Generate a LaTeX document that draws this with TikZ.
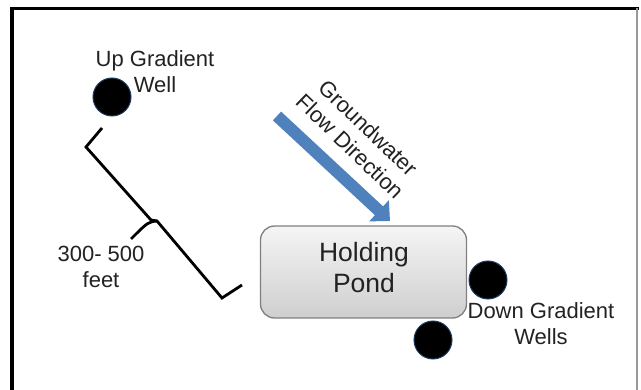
\documentclass[tikz,border=0pt]{standalone}
\usepackage{fontspec}
\setmainfont{Liberation Sans}
\usetikzlibrary{arrows.meta}
\definecolor{flowblue}{HTML}{4F81BD}
\definecolor{wellrim}{HTML}{1F3A60}
\definecolor{txt}{HTML}{222222}
\definecolor{pondedge}{HTML}{7F7F7F}
\begin{document}
\begin{tikzpicture}[x=1pt,y=-1pt,
  lbl/.style={font=\fontsize{22}{26}\selectfont, text=txt, align=center, inner sep=0pt},
  pondlbl/.style={font=\fontsize{26.5}{31}\selectfont, text=txt, align=center, inner sep=0pt},
  well/.style={circle, fill=black, draw=wellrim, line width=1pt, minimum size=38pt, inner sep=0pt},
  pondbox/.style={rectangle, rounded corners=14pt, minimum width=206pt, minimum height=92pt,
    top color=gray!8, bottom color=gray!38, draw=pondedge, line width=1.3pt},
  bracketline/.style={line width=2.8pt, line join=miter},
  flowarrow/.style={line width=12pt, flowblue, -{Triangle[width=28pt,length=15pt]}}
]
\useasboundingbox (0,0) rectangle (641,390);
% frame
\draw[line width=4pt] (12,7) -- (12,390);
\draw[line width=3pt] (10.5,8.5) -- (639,8.5);
\draw[gray!80, line width=2pt] (637,8) -- (637,390);
% wells
\node[well] (upwell) at (112,97) {};
\node[well] (dwell1) at (488,280) {};
\node[well] (dwell2) at (433,340) {};
% pond
\node[pondbox] (pond) at (363.5,272) {};
\node[pondlbl, anchor=base] (pondtext) at (364,293) {Holding\\Pond};
% labels
\node[lbl, anchor=base] (uplbl) at (155,93) {Up Gradient\\Well};
\node[lbl, anchor=base] (downlbl) at (541,345) {Down Gradient\\Wells};
\node[lbl, anchor=base] (rangelbl) at (101,288) {300- 500\\feet};
\node[lbl, rotate=-44] (flowlbl) at (359,137) {Groundwater\\Flow Direction};
% flow arrow
\coordinate (fs) at (277,116);
\coordinate (ft) at (390,221);
\draw[flowarrow] (fs) -- (ft);
% bracket
\coordinate (ba) at (102,128);
\coordinate (bb) at (86,147);
\coordinate (bm) at (151,220);
\coordinate (bm2) at (157,221);
\coordinate (bd) at (131,239);
\coordinate (bf) at (222,298);
\coordinate (bg) at (242,285);
\draw[bracketline] (ba) -- (bb) -- (bm) -- (bm2) -- (bf) -- (bg);
\draw[bracketline] (bm2) .. controls (148,222) .. (bd);
\end{tikzpicture}
\end{document}
